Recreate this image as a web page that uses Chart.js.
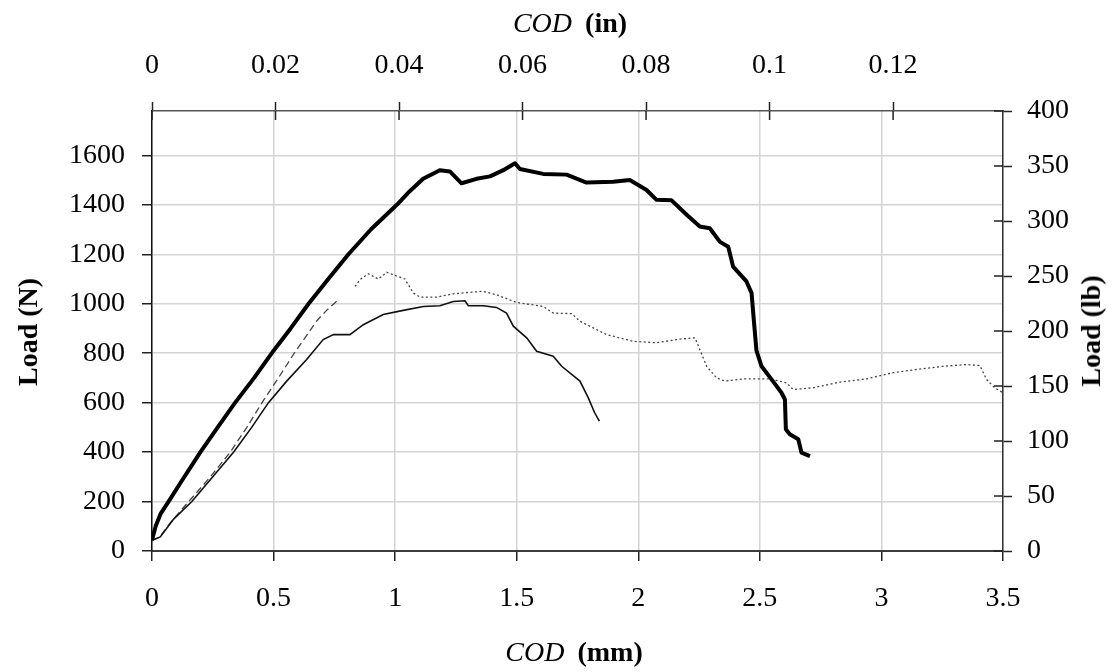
<!DOCTYPE html>
<html>
<head>
<meta charset="utf-8">
<script src="https://cdn.jsdelivr.net/npm/chart.js@4.4.0/dist/chart.umd.min.js"></script>
<style>
body { margin: 0; background: #fff; }
#wrap { position: relative; width: 1118px; height: 672px; font-family: 'Liberation Serif', 'Times New Roman', serif; font-size: 28px; color: #000; }
.ttl { position: absolute; line-height: 1; white-space: nowrap; transform: translate(-50%, -50%); }
.rot { transform: translate(-50%, -50%) rotate(-90deg); }
</style>
</head>
<body>
<div id="wrap">
    <canvas id="codChart" width="1118" height="672"></canvas>
    <div class="ttl" style="left:570px; top:23px;"><i>COD</i><b style="margin-left:13px;">(in)</b></div>
    <div class="ttl" style="left:574px; top:652px;"><i>COD</i><b style="margin-left:13px;">(mm)</b></div>
    <div class="ttl rot" style="left:28px; top:332px;"><b>Load (N)</b></div>
    <div class="ttl rot" style="left:1091px; top:331px;"><b>Load (lb)</b></div>
</div>
<script>
// specimen 1 (thick line)
const codThick = [0, 0.015, 0.035, 0.068, 0.12, 0.199, 0.27, 0.342, 0.42, 0.5, 0.57, 0.644, 0.725, 0.808, 0.9, 1.007,
    1.06, 1.115, 1.184, 1.225, 1.273, 1.335, 1.39, 1.445, 1.493, 1.513, 1.609, 1.705, 1.787, 1.897, 1.965, 2.034, 2.075,
    2.137, 2.199, 2.253, 2.294, 2.336, 2.37, 2.39, 2.445, 2.466, 2.475, 2.486, 2.507, 2.548, 2.589, 2.603, 2.607, 2.623,
    2.658, 2.671, 2.706];
const loadThick = [45, 100, 150, 200, 280, 400, 500, 600, 700, 810, 900, 1000, 1100, 1200, 1300, 1400,
    1455, 1505, 1540, 1535, 1487, 1505, 1515, 1540, 1568, 1545, 1525, 1522, 1490, 1493, 1500, 1460, 1420,
    1418, 1360, 1312, 1305, 1250, 1230, 1150, 1090, 1043, 935, 810, 747, 694, 640, 613, 492, 472,
    452, 398, 384];

// specimen 2 (thin solid line)
const codThin = [0, 0.034, 0.09, 0.164, 0.25, 0.336, 0.41, 0.479, 0.554, 0.636, 0.704, 0.746, 0.814, 0.869, 0.951,
    1.033, 1.116, 1.184, 1.239, 1.287, 1.301, 1.362, 1.417, 1.458, 1.486, 1.541, 1.582, 1.65, 1.685, 1.76, 1.794,
    1.82, 1.84];
const loadThin = [43, 57, 130, 200, 300, 400, 500, 600, 687, 774, 855, 875, 875, 915, 956,
    973, 989, 992, 1009, 1012, 992, 992, 985, 962, 909, 862, 808, 788, 747, 687, 620,
    560, 525];

// specimen 3 (dashed, then dotted)
const codDash = [0, 0.03, 0.08, 0.151, 0.24, 0.322, 0.39, 0.459, 0.52, 0.585, 0.677, 0.72, 0.766, 0.835, 0.855,
    0.889, 0.931, 0.965, 1.006, 1.04, 1.075, 1.102, 1.171, 1.239, 1.308, 1.362, 1.417, 1.5, 1.609, 1.65, 1.726,
    1.76, 1.815, 1.87, 1.979, 2.075, 2.171, 2.233, 2.253, 2.281, 2.322, 2.356, 2.431, 2.541, 2.61, 2.637, 2.719,
    2.829, 2.939, 3.048, 3.144, 3.254, 3.35, 3.405, 3.432, 3.466, 3.5];
const loadDash = [43, 55, 120, 200, 300, 400, 500, 610, 700, 800, 930, 975, 1016, 1070, 1097,
    1121, 1100, 1127, 1112, 1100, 1043, 1027, 1027, 1040, 1046, 1050, 1036, 1005, 989, 962, 960,
    929, 902, 875, 848, 842, 857, 862, 815, 747, 700, 687, 696, 696, 680, 653, 660,
    683, 696, 721, 734, 747, 754, 750, 694, 660, 640];

const mmTicks = [0, 0.5, 1, 1.5, 2, 2.5, 3, 3.5];
const inTicks = [0, 0.02, 0.04, 0.06, 0.08, 0.1, 0.12];
const newtonTicks = [0, 200, 400, 600, 800, 1000, 1200, 1400, 1600];
const poundTicks = [0, 50, 100, 150, 200, 250, 300, 350, 400];

const LB_TO_N = 4.44822;
const MM_PER_IN = 25.4;

function toPoints(xs, ys) {
    return xs.map((x, i) => ({ x: x, y: ys[i] }));
}

const tickFont = { family: 'Liberation Serif', size: 28 };

function fixedTicks(list) {
    return scale => { scale.ticks = list.map(v => ({ value: v })); };
}

const innerTicks = {
    id: 'innerTicks',
    afterDraw(chart) {
        const ctx = chart.ctx;
        const a = chart.chartArea;
        const top = chart.scales.xIn;
        const right = chart.scales.yLb;
        ctx.save();
        ctx.strokeStyle = '#222';
        ctx.lineWidth = 1.5;
        ctx.beginPath();
        top.ticks.forEach(t => {
            const x = top.getPixelForValue(t.value);
            ctx.moveTo(x, a.top);
            ctx.lineTo(x, a.top + 9);
        });
        right.ticks.forEach(t => {
            const y = right.getPixelForValue(t.value);
            ctx.moveTo(a.right - 9, y);
            ctx.lineTo(a.right, y);
        });
        ctx.stroke();
        ctx.restore();
    }
};

new Chart(document.getElementById('codChart').getContext('2d'), {
    type: 'line',
    data: {
        datasets: [{
            label: 'Specimen 1',
            data: toPoints(codThick, loadThick),
            borderColor: '#000',
            borderWidth: 4,
            borderJoinStyle: 'round',
            pointRadius: 0
        }, {
            label: 'Specimen 2',
            data: toPoints(codThin, loadThin),
            borderColor: '#111',
            borderWidth: 1.6,
            pointRadius: 0
        }, {
            label: 'Specimen 3',
            data: toPoints(codDash, loadDash),
            borderColor: '#444',
            borderWidth: 1.3,
            pointRadius: 0,
            segment: {
                borderDash: c => c.p1.parsed.x <= 0.8 ? [7, 4] : [2, 2.5],
                borderColor: c => (c.p0.parsed.x < 0.8 && c.p1.parsed.x > 0.8) ? 'rgba(0,0,0,0)' : '#444'
            }
        }]
    },
    options: {
        responsive: false,
        animation: false,
        devicePixelRatio: 1,
        layout: { padding: 0 },
        plugins: {
            legend: { display: false },
            tooltip: { enabled: false }
        },
        scales: {
            x: {
                type: 'linear', position: 'bottom', min: 0, max: 3.5,
                afterBuildTicks: fixedTicks(mmTicks),
                afterFit: s => { s.height = 121; },
                ticks: { font: tickFont, color: '#000', padding: 21, maxRotation: 0, autoSkip: false, callback: v => String(v) },
                grid: { color: '#d4d4d4', lineWidth: 1.5, tickLength: 10, tickColor: '#222', tickWidth: 1.5 },
                border: { color: '#3c3c3c', width: 2 }
            },
            xIn: {
                type: 'linear', position: 'top', min: 0, max: 3.5 / MM_PER_IN,
                afterBuildTicks: fixedTicks(inTicks),
                afterFit: s => { s.height = 111; },
                ticks: { font: tickFont, color: '#000', padding: 20, maxRotation: 0, autoSkip: false, callback: v => String(v) },
                grid: { drawOnChartArea: false, tickLength: 9, tickColor: '#222', tickWidth: 1.5 },
                border: { color: '#555', width: 1.5 }
            },
            y: {
                type: 'linear', position: 'left', min: 0, max: 400 * LB_TO_N,
                afterBuildTicks: fixedTicks(newtonTicks),
                afterFit: s => { s.width = 152; },
                ticks: { font: tickFont, color: '#000', padding: 17, autoSkip: false, callback: v => String(v) },
                grid: { color: '#d4d4d4', lineWidth: 1.5, tickLength: 10, tickColor: '#222', tickWidth: 1.5 },
                border: { color: '#111', width: 1.5 }
            },
            yLb: {
                type: 'linear', position: 'right', min: 0, max: 400,
                afterBuildTicks: fixedTicks(poundTicks),
                afterFit: s => { s.width = 115; },
                ticks: { font: tickFont, color: '#000', padding: 15, autoSkip: false, callback: v => String(v) },
                grid: { drawOnChartArea: false, tickLength: 9, tickColor: '#222', tickWidth: 1.5 },
                border: { color: '#333', width: 1.5 }
            }
        }
    },
    plugins: [innerTicks]
});
</script>
</body>
</html>
